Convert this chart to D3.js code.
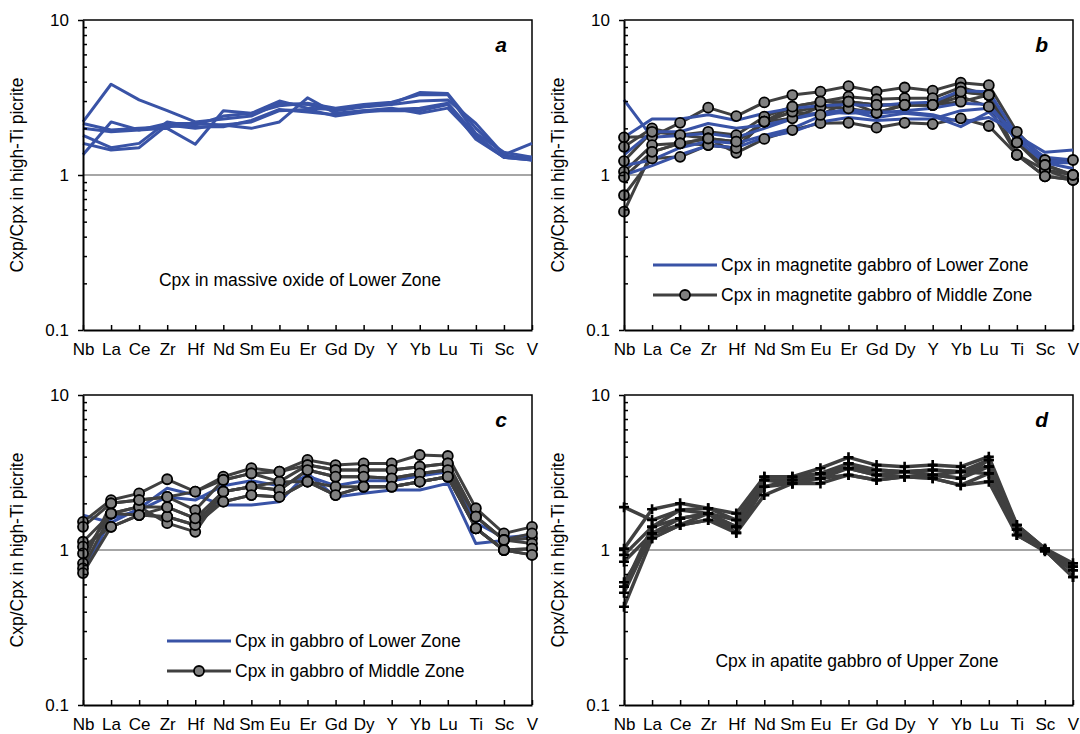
<!DOCTYPE html>
<html><head><meta charset="utf-8">
<script src="https://cdn.jsdelivr.net/npm/d3@7"></script>
<style>body{margin:0;background:#fff} text{font-family:"Liberation Sans",Arial,sans-serif}</style>
</head><body><svg id="chart" width="1080" height="734"></svg>
<script>
const elements = ["Nb","La","Ce","Zr","Hf","Nd","Sm","Eu","Er","Gd","Dy","Y","Yb","Lu","Ti","Sc","V"];
const yMajorTicks = [0.1, 1, 10];
const yMinorTicks = [0.2,0.3,0.4,0.5,0.6,0.7,0.8,0.9,2,3,4,5,6,7,8,9];

// Panel a: Cpx in massive oxide of Lower Zone
const massiveOxideLZ = [
  [2.2,3.85,3.05,2.6,2.2,2.3,2.4,2.9,2.85,2.6,2.75,2.85,3.0,3.05,2.15,1.35,1.25],
  [2.0,1.9,1.95,2.0,1.58,2.6,2.5,3.0,2.7,2.65,2.8,2.9,3.4,3.35,2.0,1.35,1.6],
  [1.35,2.2,1.95,2.15,2.15,2.1,2.0,2.2,3.15,2.5,2.6,2.6,2.6,2.85,1.7,1.3,1.3],
  [1.8,1.5,1.6,2.2,2.05,2.05,2.25,2.65,2.55,2.45,2.6,2.7,2.5,2.7,1.75,1.3,1.25],
  [1.6,1.45,1.5,2.1,2.0,2.1,2.2,2.6,2.65,2.4,2.55,2.65,2.7,2.9,1.8,1.3,1.25],
  [2.15,1.95,2.0,2.05,2.1,2.4,2.5,2.8,2.9,2.7,2.85,2.95,3.3,3.3,1.85,1.4,1.3]
];
// Panel b
const magGabbroLZ = [
  [3.05,1.75,1.8,1.85,1.75,2.0,2.3,2.55,2.5,2.55,2.55,2.45,2.2,2.35,1.9,1.2,1.2],
  [1.75,2.3,2.3,2.45,2.25,2.5,2.7,2.8,2.85,2.8,2.9,2.95,3.5,3.45,1.8,1.4,1.45],
  [1.35,1.9,1.9,2.15,2.0,2.1,2.3,2.5,2.65,2.5,2.6,2.7,2.9,2.85,1.75,1.3,1.25],
  [1.15,1.25,1.5,1.65,1.6,1.8,2.0,2.4,2.6,2.35,2.5,2.4,2.05,2.55,1.7,1.2,1.1],
  [1.0,1.15,1.35,1.55,1.5,1.75,1.9,2.2,2.35,2.25,2.3,2.3,2.6,2.7,1.85,1.25,1.2]
];
const magGabbroMZ = [
  [1.75,1.77,2.17,2.72,2.4,2.94,3.28,3.45,3.74,3.45,3.67,3.5,3.94,3.8,1.9,1.25,1.25],
  [1.52,2.0,1.81,1.9,1.81,2.38,2.76,2.97,3.2,3.08,3.13,3.13,3.67,3.28,1.62,1.16,1.0],
  [1.23,1.9,1.81,1.72,1.64,2.21,2.56,2.76,2.97,2.83,2.83,2.83,3.45,3.28,1.62,1.08,1.0],
  [1.05,1.56,1.6,1.56,1.49,2.21,2.32,2.76,2.69,2.52,2.83,2.83,3.2,2.76,1.35,1.08,0.93],
  [0.97,1.41,1.6,1.72,1.39,1.71,1.95,2.16,2.17,2.02,2.17,2.13,2.32,2.07,1.35,0.98,0.93],
  [0.74,1.28,1.31,1.56,1.49,2.21,2.56,2.44,2.97,2.52,2.83,2.83,2.97,3.28,1.35,0.98,0.93],
  [0.58,1.41,1.6,1.72,1.64,2.21,2.76,2.97,2.97,2.83,2.83,2.83,3.45,3.28,1.62,1.16,1.0]
];
// Panel c
const gabbroLZ = [
  [1.68,1.5,1.85,2.5,2.26,1.95,1.95,2.05,3.12,2.2,2.32,2.44,2.44,2.69,1.1,1.15,1.2],
  [0.7,1.6,1.8,2.2,2.1,2.6,2.8,2.6,3.0,2.6,2.8,2.8,3.0,3.2,1.5,1.2,1.25]
];
const gabbroMZ = [
  [1.52,2.1,2.32,2.86,2.38,2.97,3.37,3.2,3.81,3.53,3.62,3.62,4.1,4.04,1.86,1.28,1.41],
  [1.41,2.0,2.1,2.2,1.81,2.83,3.12,2.76,3.53,3.28,3.28,3.28,3.45,3.62,1.64,1.16,1.19],
  [1.13,1.72,1.9,1.89,1.6,2.38,2.56,2.44,3.28,2.97,2.97,2.9,3.12,3.28,1.64,1.16,1.1],
  [1.05,1.41,1.68,1.64,1.45,2.05,2.26,2.2,2.76,2.26,2.56,2.56,2.76,2.97,1.38,1.0,0.93],
  [0.95,1.72,1.9,1.49,1.31,2.38,2.56,2.76,2.76,2.56,2.56,2.56,2.76,2.97,1.38,1.0,1.02],
  [0.82,2.0,2.1,2.2,2.38,2.83,3.12,3.2,3.53,3.28,3.28,3.28,3.45,3.62,1.64,1.16,1.28],
  [0.76,1.72,1.68,1.64,1.45,2.38,2.56,2.44,3.28,2.97,2.97,2.9,3.12,3.28,1.38,1.0,1.02],
  [0.71,1.41,1.68,1.89,1.6,2.05,2.26,2.2,2.76,2.26,2.56,2.56,2.76,2.97,1.38,1.0,0.93]
];
// Panel d
const apatiteGabbroUZ = [
  [1.89,1.56,1.81,1.72,1.56,2.83,2.83,3.12,3.62,3.28,3.2,3.28,3.2,3.81,1.35,1.0,0.78],
  [1.02,1.83,2.0,1.86,1.72,2.97,2.97,3.37,3.96,3.53,3.45,3.53,3.45,4.0,1.45,1.02,0.82],
  [0.93,1.41,1.6,1.72,1.41,2.56,2.69,2.9,3.37,3.05,3.2,3.05,2.9,3.45,1.35,1.0,0.74],
  [0.84,1.28,1.45,1.56,1.29,2.26,2.69,2.69,3.05,2.83,2.97,2.9,2.62,2.76,1.25,1.0,0.67],
  [0.62,1.19,1.45,1.56,1.41,2.83,2.83,2.9,3.05,2.83,2.97,2.9,2.62,3.12,1.25,0.98,0.74],
  [0.58,1.41,1.81,1.86,1.56,2.97,2.97,3.12,3.37,3.05,3.2,3.28,3.2,3.45,1.45,1.02,0.78],
  [0.53,1.28,1.6,1.72,1.29,2.56,2.83,3.12,3.37,3.28,3.2,3.05,2.9,3.81,1.35,1.0,0.78],
  [0.43,1.19,1.45,1.72,1.41,2.83,2.69,2.9,3.62,3.05,2.97,3.05,3.2,3.12,1.25,1.0,0.67]
];

const BLUE = "#3953a6", GRAY = "#404040", MARK = "#808080";
const FONT = '"Liberation Sans", Arial, sans-serif';
const svg = d3.select("#chart");

function panel(opt) {
  const {left, top, w, h, label, ytitle} = opt;
  const g = svg.append("g");
  const x = d3.scalePoint().domain(elements).range([left, left + w]);
  const y = d3.scaleLog().domain([0.1, 10]).range([top + h, top]);
  const line = d3.line().x((d, i) => x(elements[i])).y(d => y(d));

  g.append("line").attr("x1", left).attr("x2", left + w).attr("y1", y(1)).attr("y2", y(1))
    .attr("stroke", "#a6a6a6").attr("stroke-width", 2);
  g.append("path").attr("d", `M${left},${top}H${left + w}V${top + h}`)
    .attr("fill", "none").attr("stroke", "#000").attr("stroke-width", 1.5);

  const drawLines = (data, color, width) => {
    g.append("g").selectAll("path").data(data).join("path")
      .attr("d", line).attr("fill", "none").attr("stroke", color)
      .attr("stroke-width", width).attr("stroke-linejoin", "round");
  };
  const drawCircles = (data) => {
    const pts = data.flatMap(s => s.map((v, i) => [elements[i], v]));
    g.append("g").selectAll("circle").data(pts).join("circle")
      .attr("cx", d => x(d[0])).attr("cy", d => y(d[1])).attr("r", 5)
      .attr("fill", MARK).attr("stroke", "#000").attr("stroke-width", 1.8);
  };
  const drawCrosses = (data) => {
    const pts = data.flatMap(s => s.map((v, i) => [elements[i], v]));
    g.append("g").selectAll("path").data(pts).join("path")
      .attr("d", d => `M${x(d[0]) - 5},${y(d[1])}h10M${x(d[0])},${y(d[1]) - 5}v10`)
      .attr("stroke", "#000").attr("stroke-width", 2.6);
  };
  opt.draw(drawLines, drawCircles, drawCrosses);

  const ya = g.append("g").attr("transform", `translate(${left},0)`)
    .call(d3.axisLeft(y).tickValues(yMajorTicks).tickFormat(d => d === 0.1 ? "0.1" : String(d))
      .tickSizeInner(5).tickSizeOuter(0).tickPadding(9));
  ya.select(".domain").attr("stroke-width", 2);
  ya.selectAll("line").attr("stroke-width", 1.5);
  ya.selectAll("text").attr("font-size", 17).attr("fill", "#000").style("font-family", FONT);
  g.append("g").attr("transform", `translate(${left},0)`)
    .call(d3.axisLeft(y).tickValues(yMinorTicks).tickFormat("").tickSizeInner(-4).tickSizeOuter(0))
    .call(s => s.select(".domain").remove())
    .selectAll("line").attr("stroke-width", 1.5);

  const xa = g.append("g").attr("transform", `translate(0,${top + h})`)
    .call(d3.axisBottom(x).tickSizeInner(-5).tickSizeOuter(0).tickPadding(13));
  xa.select(".domain").attr("stroke-width", 2);
  xa.selectAll("line").attr("stroke-width", 1.5);
  xa.selectAll("text").attr("font-size", 17).attr("fill", "#000").style("font-family", FONT);

  g.append("text").attr("transform", `translate(${left - 60},${y(1)}) rotate(-90)`)
    .attr("text-anchor", "middle").attr("font-size", 17.5).text(ytitle);
  g.append("text").attr("x", left + w - 25).attr("y", top + 32).attr("text-anchor", "end")
    .attr("font-size", 21).attr("font-weight", "bold").attr("font-style", "italic").text(label);
  if (opt.note) {
    g.append("text").attr("x", opt.note[0]).attr("y", opt.note[1]).attr("text-anchor", "middle")
      .attr("font-size", 17.5).text(opt.note[2]);
  }
  if (opt.legend) {
    const [lx, ly, t1, t2] = opt.legend;
    g.append("line").attr("x1", lx).attr("x2", lx + 64).attr("y1", ly).attr("y2", ly)
      .attr("stroke", BLUE).attr("stroke-width", 3);
    g.append("text").attr("x", lx + 68).attr("y", ly + 6).attr("font-size", 17.5).text(t1);
    g.append("line").attr("x1", lx).attr("x2", lx + 64).attr("y1", ly + 30).attr("y2", ly + 30)
      .attr("stroke", GRAY).attr("stroke-width", 3);
    g.append("circle").attr("cx", lx + 32).attr("cy", ly + 30).attr("r", 5)
      .attr("fill", MARK).attr("stroke", "#000").attr("stroke-width", 1.8);
    g.append("text").attr("x", lx + 68).attr("y", ly + 36).attr("font-size", 17.5).text(t2);
  }
}

const W = 449, H = 310;
panel({left: 83, top: 20, w: W, h: H, label: "a", ytitle: "Cxp/Cpx in high-Ti picrite",
  note: [300, 286, "Cpx in massive oxide of Lower Zone"],
  draw: (L) => { L(massiveOxideLZ, BLUE, 3); }});
panel({left: 624, top: 20, w: W, h: H, label: "b", ytitle: "Cxp/Cpx in high-Ti picrite",
  legend: [653, 265, "Cpx in magnetite gabbro of Lower Zone", "Cpx in magnetite gabbro of Middle Zone"],
  draw: (L, C) => { L(magGabbroMZ, GRAY, 3); L(magGabbroLZ, BLUE, 3); C(magGabbroMZ); }});
panel({left: 83, top: 395, w: W, h: H, label: "c", ytitle: "Cxp/Cpx in high-Ti picrite",
  legend: [167, 641, "Cpx in gabbro of Lower Zone", "Cpx in gabbro of Middle Zone"],
  draw: (L, C) => { L(gabbroLZ, BLUE, 3); L(gabbroMZ, GRAY, 3); C(gabbroMZ); }});
panel({left: 624, top: 395, w: W, h: H, label: "d", ytitle: "Cpx/Cpx in high-Ti picrite",
  note: [857, 667, "Cpx in apatite gabbro of Upper Zone"],
  draw: (L, C, X) => { L(apatiteGabbroUZ, GRAY, 3.5); X(apatiteGabbroUZ); }});
</script></body></html>
